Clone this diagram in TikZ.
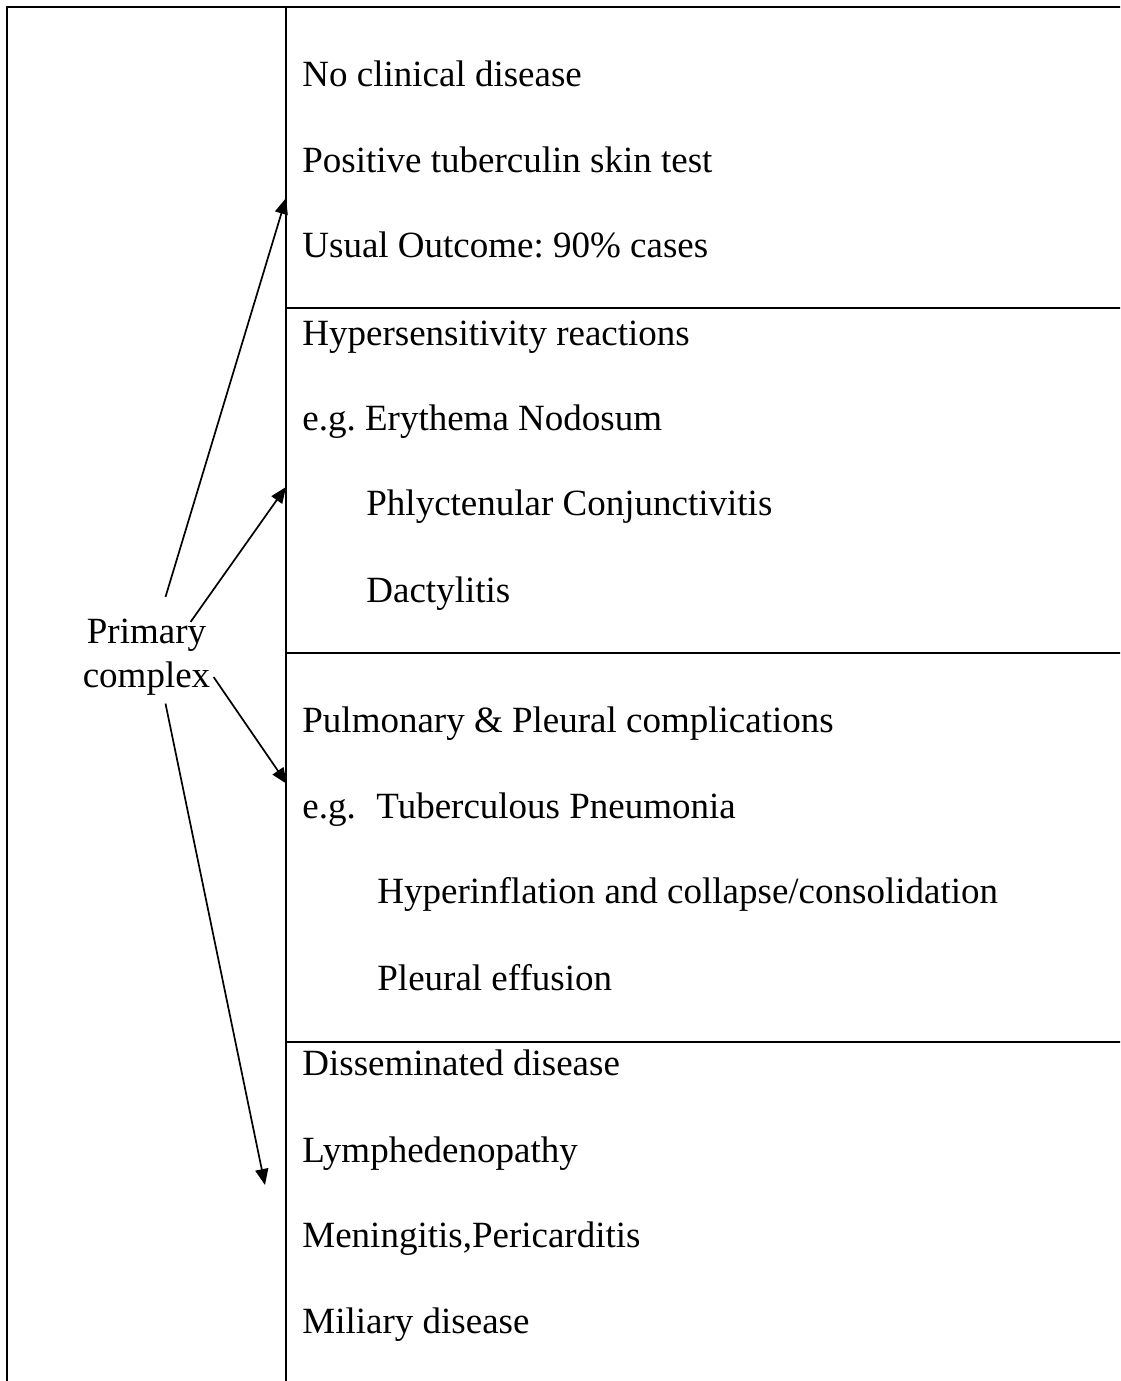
\documentclass[tikz,border=0pt]{standalone}
\usepackage{fontspec}
\setmainfont{Liberation Serif}
\usetikzlibrary{arrows.meta, positioning, calc}

\tikzset{
    entry/.style={anchor=base west, inner sep=0pt, font=\fontsize{18.5}{22}\selectfont},
    frame/.style={line width=1.4pt},
    rule/.style={line width=1.1pt},
    arr/.style={line width=0.85pt, -{Triangle[length=8pt, width=6.5pt]}}
}

\begin{document}
\frenchspacing
\begin{tikzpicture}[x=0.5pt, y=-0.5pt]
    \clip (0,0) rectangle (1120,1381);
    % Frame
    \draw[frame] (7,7) rectangle (1150,1400);
    \draw[rule] (286,7) -- (286,1400);
    \foreach \y in {308, 653, 1042} {
        \draw[rule] (286,\y) -- (1150,\y);
    }

    % Usual outcome
    \node[entry] (noclin) at (302,86) {No clinical disease};
    \node[entry] (tuberc) at (302,172) {Positive tuberculin skin test};
    \node[entry] (usual) at (302,257) {Usual Outcome: 90\% cases};

    % Hypersensitivity
    \node[entry] (hyper) at (302,345) {Hypersensitivity reactions};
    \node[entry] (erythema) at (302,430) {e.g.\ Erythema Nodosum};
    \node[entry] (phlyct) at (366,515) {Phlyctenular Conjunctivitis};
    \node[entry] (dactyl) at (366,602) {Dactylitis};

    % Pulmonary
    \node[entry] (pulm) at (302,732) {Pulmonary \& Pleural complications};
    \node[entry] (pneum) at (302,818) {e.g.\hspace{10.3pt}Tuberculous Pneumonia};
    \node[entry] (hyperinf) at (377,903) {Hyperinflation and collapse/consolidation};
    \node[entry] (effusion) at (377,990) {Pleural effusion};

    % Disseminated
    \node[entry] (dissem) at (302,1075) {Disseminated disease};
    \node[entry] (lymph) at (302,1162) {Lymphedenopathy};
    \node[entry] (mening) at (302,1247) {Meningitis,Pericarditis};
    \node[entry] (miliary) at (302,1333) {Miliary disease};

    % Primary complex
    \node[align=center, inner sep=0pt, font=\fontsize{18.5}{22}\selectfont] (primary) at (146.5,657) {Primary\\complex};
    \coordinate (tipA) at (286,198);
    \coordinate (tipB) at (286,487);
    \coordinate (tipC) at (287,784);
    \coordinate (tipD) at (265,1185);
    \draw[arr] ([shift={(19,-21.5)}]primary.north) -- (tipA);
    \draw[arr] ([shift={(-20,3.5)}]primary.north east) -- (tipB);
    \draw[arr] ([shift={(3,20)}]primary.east) -- (tipC);
    \draw[arr] ([shift={(19,8)}]primary.south) -- (tipD);
\end{tikzpicture}
\end{document}
